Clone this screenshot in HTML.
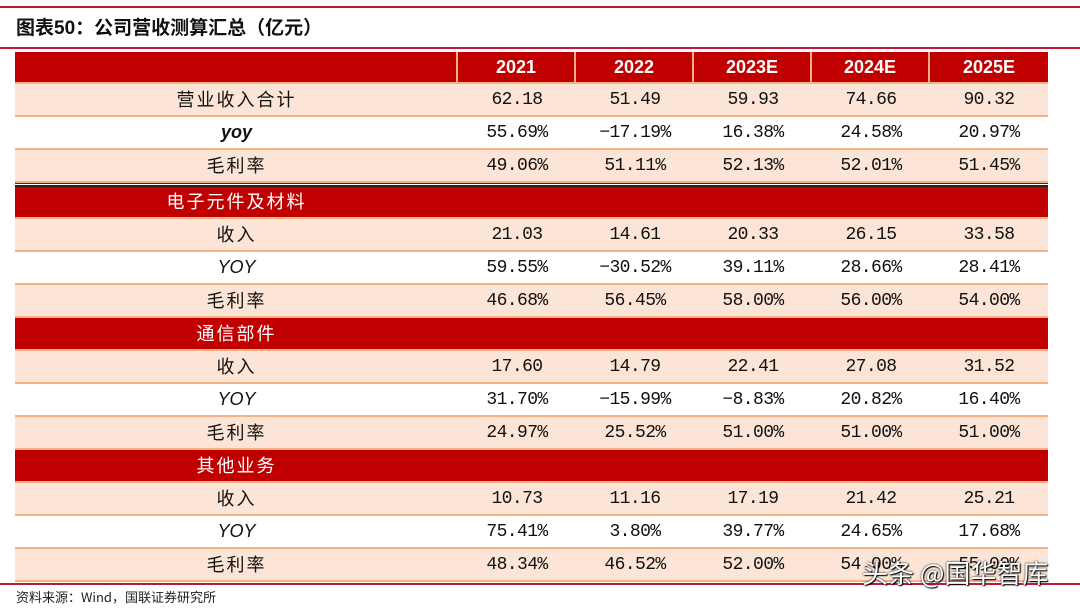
<!DOCTYPE html>
<html><head><meta charset="utf-8"><style>
body{margin:0;width:1080px;height:608px;background:#fff;position:relative;overflow:hidden;font-family:"Liberation Sans","Noto Sans CJK SC",sans-serif}
.ab{position:absolute}
.row{position:absolute;left:15px;width:1033px;display:flex;box-sizing:border-box;border-bottom:2px solid #f4b183}
.c{display:flex;align-items:center;justify-content:center;box-sizing:border-box;font-size:17px;color:#111;line-height:1}
.lab{width:443px;font-family:"Noto Sans CJK SC",sans-serif;font-size:18px;letter-spacing:2px}
.lab span{display:block;line-height:1;transform:translateY(-1px)}
.v{width:118px;font-family:"Liberation Mono","Noto Sans CJK SC",monospace;font-size:18px;letter-spacing:-0.6px}
.pink{background:#fce4d6}
.white{background:#fff}
.red{background:#c00000;border-bottom:2px solid #f4b183}
.red .c{color:#fff}
</style></head><body>
<div class="ab" style="left:0;top:6px;width:1080px;height:2px;background:#c0183a"></div>
<div class="ab" style="left:16px;top:18px;font-size:19px;line-height:22px;font-weight:bold;font-family:'Liberation Sans','Noto Sans CJK SC',sans-serif;color:#111">图表50：公司营收测算汇总（亿元）</div>
<div class="ab" style="left:0;top:47px;width:1080px;height:2px;background:#c0183a"></div>
<div id="tbl"></div>
<div class="ab" style="left:15px;top:183px;width:1033px;height:4px;border-top:1px solid #333;border-bottom:2px solid #222;box-sizing:border-box"></div>
<div class="ab" style="left:0;top:583px;width:1080px;height:2px;background:#c0183a"></div>
<div class="ab" style="left:16px;top:590px;font-size:13px;line-height:14px;font-family:'Noto Sans CJK SC',sans-serif;color:#222">资料来源：Wind，国联证券研究所</div>
<div class="ab" style="left:862px;top:558px;font-size:26px;line-height:30px;color:#fff;font-family:'Noto Sans CJK SC',sans-serif;text-shadow:0 0 2px #000,1px 1px 1px #000">头条 @国华智库</div>
<script>
const years=["2021","2022","2023E","2024E","2025E"];
const rows=[
["营业收入合计",["62.18","51.49","59.93","74.66","90.32"],"pink"],
["yoy",["55.69%","-17.19%","16.38%","24.58%","20.97%"],"white"],
["毛利率",["49.06%","51.11%","52.13%","52.01%","51.45%"],"pink"],
["电子元件及材料",null,"red"],
["收入",["21.03","14.61","20.33","26.15","33.58"],"pink"],
["YOY",["59.55%","-30.52%","39.11%","28.66%","28.41%"],"white"],
["毛利率",["46.68%","56.45%","58.00%","56.00%","54.00%"],"pink"],
["通信部件",null,"red"],
["收入",["17.60","14.79","22.41","27.08","31.52"],"pink"],
["YOY",["31.70%","-15.99%","-8.83%","20.82%","16.40%"],"white"],
["毛利率",["24.97%","25.52%","51.00%","51.00%","51.00%"],"pink"],
["其他业务",null,"red"],
["收入",["10.73","11.16","17.19","21.42","25.21"],"pink"],
["YOY",["75.41%","3.80%","39.77%","24.65%","17.68%"],"white"],
["毛利率",["48.34%","46.52%","52.00%","54.00%","55.00%"],"pink"]];
const tops=[84,117,150,187,219,252,285,318,351,384,417,450,483,516,549];
const T=document.getElementById('tbl');
function mk(cls,top,h){const d=document.createElement('div');d.className='row '+cls;d.style.top=top+'px';d.style.height=h+'px';T.appendChild(d);return d;}
const hd=mk('red',52,32);


let l=document.createElement('div');l.className='c lab';l.style.borderRight='2px solid #f4b183';hd.appendChild(l);
years.forEach((y,i)=>{const c=document.createElement('div');c.className='c v';c.textContent=y;c.style.fontFamily='"Liberation Sans",sans-serif';c.style.fontWeight='bold';c.style.letterSpacing='0';if(i<4)c.style.borderRight='2px solid #f4b183';


hd.appendChild(c);});
rows.forEach((r,i)=>{const h=(i+1<tops.length?tops[i+1]:582)-tops[i]-(i==2?4:0);
const d=mk(r[2],tops[i],h);


const a=document.createElement('div');a.className='c lab';
const s=document.createElement('span');s.textContent=r[0];a.appendChild(s);
if(r[0]=='yoy'){a.style.fontFamily='"Liberation Sans",sans-serif';a.style.fontWeight='bold';a.style.fontStyle='italic';a.style.letterSpacing='0';}
if(r[0]=='YOY'){a.style.fontFamily='"Liberation Sans",sans-serif';a.style.fontStyle='italic';a.style.letterSpacing='0';}


d.appendChild(a);
if(r[1])r[1].forEach(v=>{const c=document.createElement('div');c.className='c v';c.textContent=v.replace('-','−');


d.appendChild(c);});
});
</script>
</body></html>
